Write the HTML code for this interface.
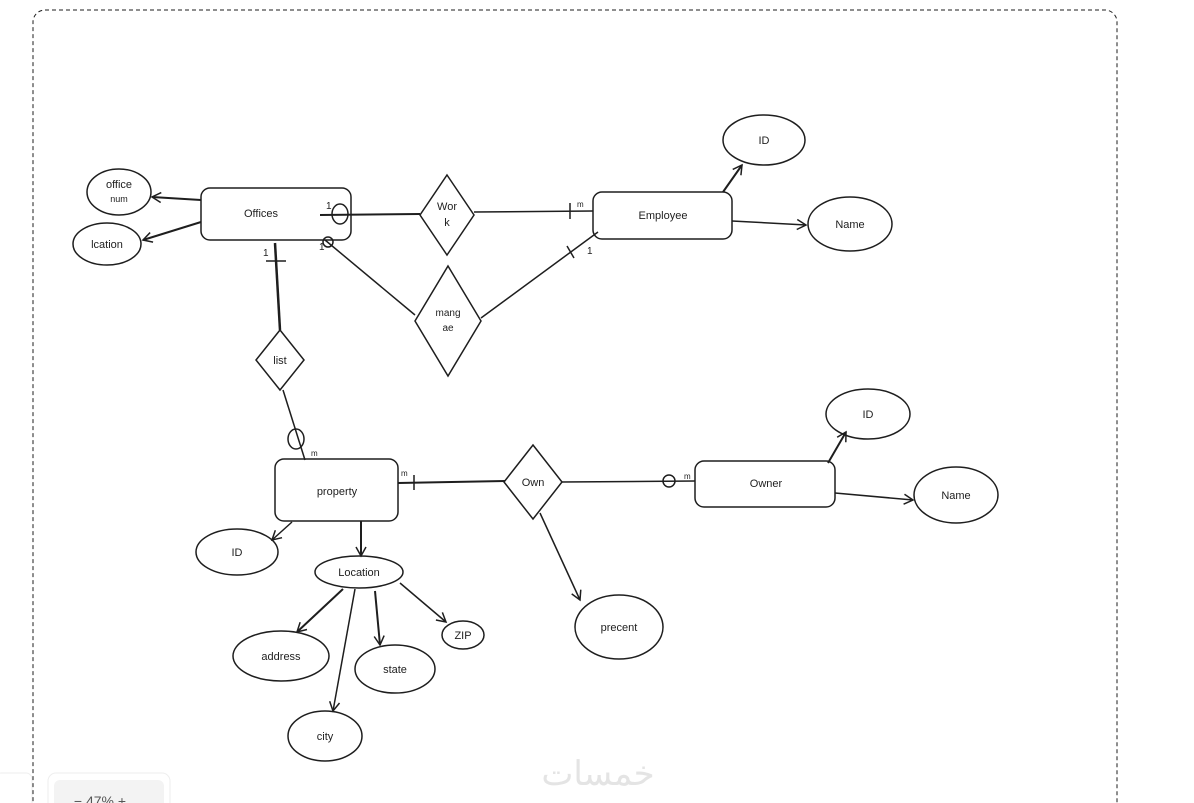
<!DOCTYPE html>
<html><head><meta charset="utf-8"><style>
html,body{margin:0;padding:0;background:#fff;width:1194px;height:803px;overflow:hidden}
svg{display:block}
text{font-family:"Liberation Sans",sans-serif;fill:#1e1e1e}
</style></head><body>
<svg width="1194" height="803" viewBox="0 0 1194 803" xmlns="http://www.w3.org/2000/svg">
<defs><marker id="a" markerWidth="12" markerHeight="12" refX="10" refY="6" orient="auto" markerUnits="userSpaceOnUse"><path d="M1,1 L10,6 L1,11" fill="none" stroke="#1e1e1e" stroke-width="1.5"/></marker></defs>
<rect x="33" y="10" width="1084" height="820" rx="12" fill="none" stroke="#1e1e1e" stroke-width="1" stroke-dasharray="4,3"/>
<g fill="none" stroke="#1e1e1e" stroke-width="1.5">
<rect x="201" y="188" width="150" height="52" rx="9"/>
<rect x="593" y="192" width="139" height="47" rx="9"/>
<rect x="275" y="459" width="123" height="62" rx="9"/>
<rect x="695" y="461" width="140" height="46" rx="9"/>
<ellipse cx="119" cy="192" rx="32" ry="23"/>
<ellipse cx="107" cy="244" rx="34" ry="21"/>
<ellipse cx="764" cy="140" rx="41" ry="25"/>
<ellipse cx="850" cy="224" rx="42" ry="27"/>
<ellipse cx="868" cy="414" rx="42" ry="25"/>
<ellipse cx="956" cy="495" rx="42" ry="28"/>
<ellipse cx="237" cy="552" rx="41" ry="23"/>
<ellipse cx="359" cy="572" rx="44" ry="16"/>
<ellipse cx="281" cy="656" rx="48" ry="25"/>
<ellipse cx="395" cy="669" rx="40" ry="24"/>
<ellipse cx="463" cy="635" rx="21" ry="14"/>
<ellipse cx="325" cy="736" rx="37" ry="25"/>
<ellipse cx="619" cy="627" rx="44" ry="32"/>
<path d="M447,175 L474,215 L447,255 L420,215 Z"/>
<path d="M448,266 L481,321 L448,376 L415,321 Z"/>
<path d="M280,330 L304,360 L280,390 L256,360 Z"/>
<path d="M533,445 L562,482 L533,519 L504,482 Z"/>
<line x1="320" y1="215" x2="420" y2="214" stroke-width="2"/>
<ellipse cx="340" cy="214" rx="8" ry="10"/>
<line x1="474" y1="212" x2="593" y2="211"/>
<line x1="570" y1="203" x2="570" y2="219"/>
<line x1="325" y1="240" x2="415" y2="315"/>
<circle cx="328" cy="242" r="5"/>
<line x1="481" y1="318" x2="598" y2="232"/>
<line x1="567" y1="246" x2="574" y2="258"/>
<line x1="275" y1="243" x2="280" y2="330" stroke-width="2.5"/>
<line x1="266" y1="261" x2="286" y2="261"/>
<line x1="283" y1="390" x2="305" y2="460"/>
<ellipse cx="296" cy="439" rx="8" ry="10"/>
<line x1="398" y1="483" x2="505" y2="481" stroke-width="2"/>
<line x1="414" y1="475" x2="414" y2="490"/>
<line x1="561" y1="482" x2="695" y2="481"/>
<circle cx="669" cy="481" r="6"/>
<line x1="540" y1="513" x2="580" y2="600" marker-end="url(#a)"/>
<line x1="723" y1="192" x2="742" y2="165" marker-end="url(#a)" stroke-width="2"/>
<line x1="732" y1="221" x2="806" y2="225" marker-end="url(#a)"/>
<line x1="201" y1="200" x2="152" y2="197" marker-end="url(#a)" stroke-width="2"/>
<line x1="201" y1="222" x2="143" y2="240" marker-end="url(#a)" stroke-width="2"/>
<line x1="828" y1="463" x2="846" y2="432" marker-end="url(#a)" stroke-width="2"/>
<line x1="835" y1="493" x2="913" y2="500" marker-end="url(#a)"/>
<line x1="292" y1="522" x2="272" y2="540" marker-end="url(#a)"/>
<line x1="361" y1="521" x2="361" y2="556" marker-end="url(#a)" stroke-width="2"/>
<line x1="343" y1="589" x2="297" y2="632" marker-end="url(#a)" stroke-width="2"/>
<line x1="355" y1="589" x2="333" y2="711" marker-end="url(#a)"/>
<line x1="375" y1="591" x2="380" y2="645" marker-end="url(#a)" stroke-width="2"/>
<line x1="400" y1="583" x2="446" y2="622" marker-end="url(#a)"/>
</g>
<g font-size="11" text-anchor="middle">
<text x="261" y="217">Offices</text>
<text x="663" y="219">Employee</text>
<text x="337" y="495">property</text>
<text x="766" y="487">Owner</text>
<text x="119" y="188">office</text><text x="119" y="202" font-size="9">num</text>
<text x="107" y="248">lcation</text>
<text x="764" y="144">ID</text>
<text x="850" y="228">Name</text>
<text x="868" y="418">ID</text>
<text x="956" y="499">Name</text>
<text x="237" y="556">ID</text>
<text x="359" y="576">Location</text>
<text x="281" y="660">address</text>
<text x="395" y="673">state</text>
<text x="463" y="639">ZIP</text>
<text x="325" y="740">city</text>
<text x="619" y="631">precent</text>
<text x="447" y="210">Wor</text><text x="447" y="226">k</text>
<text x="448" y="316" font-size="10">mang</text><text x="448" y="331" font-size="10">ae</text>
<text x="280" y="364">list</text>
<text x="533" y="486">Own</text>
</g>
<g font-size="10">
<text x="326" y="209">1</text><text x="319" y="250">1</text><text x="263" y="256">1</text>
<text x="587" y="254">1</text>
<text x="577" y="207" font-size="8">m</text><text x="311" y="456" font-size="8">m</text>
<text x="401" y="476" font-size="8">m</text><text x="684" y="479" font-size="8">m</text>
</g>
<text x="598" y="785" font-size="34" fill="#e4e4e4" text-anchor="middle" style="fill:#e4e4e4;font-family:'Liberation Sans','Noto Sans CJK SC',sans-serif">خمسات</text>
<rect x="-5" y="773" width="37" height="40" rx="6" fill="#fff" stroke="#eee"/>
<rect x="48" y="773" width="122" height="40" rx="8" fill="#fff" stroke="#eee"/>
<rect x="54" y="780" width="110" height="30" rx="6" fill="#f3f3f3"/>
<text x="100" y="806" font-size="14" fill="#555" text-anchor="middle" style="fill:#555">− 47% +</text>
</svg>
</body></html>
